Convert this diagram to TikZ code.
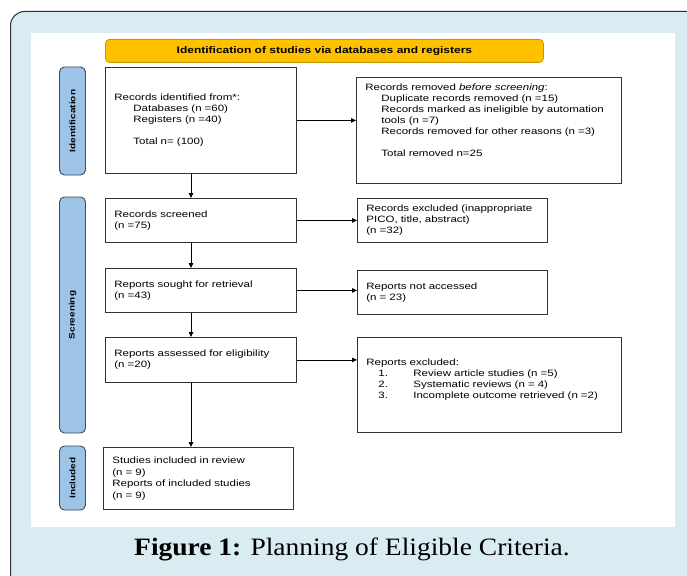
\documentclass[tikz,border=0pt]{standalone}
\usepackage{fontspec}
\setmainfont{Liberation Sans}[FakeStretch=1.25]
\newfontfamily\capfont{Liberation Serif}[FakeStretch=1.1]
\usetikzlibrary{arrows.meta}
\definecolor{outerfill}{HTML}{D9ECF2}
\definecolor{outerline}{HTML}{2F2F2F}
\definecolor{bannerfill}{HTML}{FFC000}
\definecolor{bannerline}{HTML}{C99A00}
\definecolor{sidefill}{HTML}{9DC3E6}
\definecolor{sideline}{HTML}{3F4B58}
\definecolor{boxline}{HTML}{333333}
\tikzset{
  box/.style={draw=boxline, line width=0.8pt, fill=white, anchor=north west,
    align=left, inner xsep=9pt, inner ysep=2pt,
    font=\fontsize{9.2}{11}\selectfont},
  sidebox/.style={draw=sideline, line width=0.9pt, fill=sidefill, rounded corners=5pt,
    rotate=90, minimum height=26pt, inner sep=0pt,
    font=\bfseries\fontsize{8}{9}\selectfont},
  arr/.style={line width=0.8pt, -{Triangle[length=5pt,width=4.5pt]}},
}
\begin{document}
\begin{tikzpicture}[x=1pt,y=-1pt]
\useasboundingbox (0,0) rectangle (687,575);
\clip (0,0) rectangle (687,575);
% outer frame and white panel
\draw[fill=outerfill, draw=outerline, line width=1pt, rounded corners=14pt] (10.5,11.5) rectangle (720,610);
\fill[white] (31,33) rectangle (675,527);
% banner
\node[draw=bannerline, fill=bannerfill, line width=0.8pt, rounded corners=4pt,
  minimum width=438pt, minimum height=23pt, anchor=north west, inner sep=0pt,
  font=\bfseries\fontsize{9.6}{11}\selectfont] (banner) at (105,39)
  {Identification of studies via databases and registers};
% side labels
\node[sidebox, minimum width=108pt] (sid) at (72.5,121) {Identification};
\node[sidebox, minimum width=236pt] (sscr) at (72.5,315) {Screening};
\node[sidebox, minimum width=64pt] (sinc) at (72.5,478) {Included};
% boxes
\node[box, text width=173pt, minimum height=106pt] (id) at (105,67)
  {Records identified from*:\\
   \hspace*{19pt}Databases (n =60)\\
   \hspace*{19pt}Registers (n =40)\\[11pt]
   \hspace*{19pt}Total n= (100)};
\node[box, text width=247pt, minimum height=106pt] (rem) at (356,77)
  {Records removed \textit{before screening}:\\
   \hspace*{16pt}Duplicate records removed (n =15)\\
   \hspace*{16pt}Records marked as ineligible by automation\\
   \hspace*{16pt}tools (n =7)\\
   \hspace*{16pt}Records removed for other reasons (n =3)\\[11pt]
   \hspace*{16pt}Total removed n=25\\[9pt]\mbox{}};
\node[box, text width=173pt, minimum height=44pt] (scr) at (105,198)
  {Records screened\\(n =75)};
\node[box, text width=172pt, minimum height=44pt] (ex1) at (357,198)
  {Records excluded (inappropriate\\PICO, title, abstract)\\(n =32)};
\node[box, text width=173pt, minimum height=44pt] (sou) at (105,268)
  {Reports sought for retrieval\\(n =43)};
\node[box, text width=172pt, minimum height=44pt] (nac) at (357,270)
  {Reports not accessed\\(n = 23)};
\node[box, text width=173pt, minimum height=45pt] (ass) at (105,337)
  {Reports assessed for eligibility\\(n =20)};
\node[box, text width=246pt, minimum height=95pt] (ex2) at (357,337)
  {Reports excluded:\\
   \hspace*{12pt}\makebox[35pt][l]{1.}Review article studies (n =5)\\
   \hspace*{12pt}\makebox[35pt][l]{2.}Systematic reviews (n = 4)\\
   \hspace*{12pt}\makebox[35pt][l]{3.}Incomplete outcome retrieved (n =2)\\[2pt]\mbox{}};
\node[box, text width=172pt, minimum height=62pt, font=\fontsize{9.2}{11.5}\selectfont] (inc) at (103,447)
  {Studies included in review\\(n = 9)\\Reports of included studies\\(n = 9)};
% connectors
\coordinate (vx) at (191,0);
\draw[arr] (id.south -| vx) -- (scr.north -| vx);
\draw[arr] (scr.south -| vx) -- (sou.north -| vx);
\draw[arr] (sou.south -| vx) -- (ass.north -| vx);
\draw[arr] (ass.south -| vx) -- (inc.north -| vx);
\draw[arr] (id.east) -- (id.east -| rem.west);
\draw[arr] (scr.east) -- (scr.east -| ex1.west);
\draw[arr] (sou.east) -- (sou.east -| nac.west);
\draw[arr] (ass.east) -- (ass.east -| ex2.west);
% caption
\node[font=\capfont\fontsize{25}{28}\selectfont] (cap) at (352,549)
  {\textbf{Figure 1:} Planning of Eligible Criteria.};
\end{tikzpicture}
\end{document}
